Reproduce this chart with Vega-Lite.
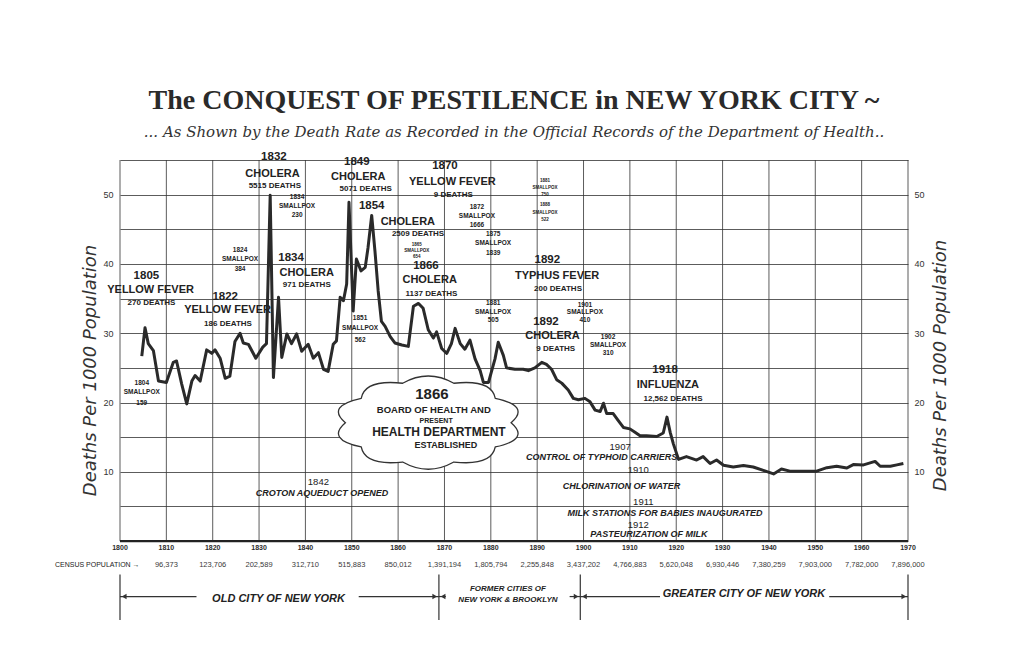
{
  "$schema": "https://vega.github.io/schema/vega-lite/v6.json",
  "width": 788,
  "height": 492,
  "autosize": "none",
  "padding": {"left": 120, "top": 160, "right": 117, "bottom": 1},
  "background": "white",
  "config": {"view": {"stroke": null}, "font": "Liberation Sans", "text": {"color": "#2b2b2b"}},
  "title": {
    "text": "The CONQUEST OF PESTILENCE in NEW YORK CITY ~",
    "subtitle": "... As Shown by the Death Rate as Recorded in the Official Records of the Department of Health..",
    "anchor": "middle",
    "frame": "group",
    "font": "Liberation Serif",
    "fontSize": 28,
    "fontWeight": "bold",
    "color": "#2a2a2a",
    "subtitleFont": "DejaVu Serif",
    "subtitleFontStyle": "italic",
    "subtitleFontSize": 15,
    "subtitleColor": "#333333",
    "subtitlePadding": 10,
    "offset": 11
  },
  "datasets": {
    "rate": [
      {"year": 1804.7, "rate": 26.7}, {"year": 1805.4, "rate": 30.8}, {"year": 1806.1, "rate": 28.5}, {"year": 1807.2, "rate": 27.5},
      {"year": 1808.3, "rate": 23.1}, {"year": 1810.0, "rate": 22.9}, {"year": 1811.5, "rate": 25.8}, {"year": 1812.2, "rate": 26.0},
      {"year": 1813.3, "rate": 22.7}, {"year": 1814.4, "rate": 19.8}, {"year": 1815.5, "rate": 23.1}, {"year": 1816.2, "rate": 23.9},
      {"year": 1817.3, "rate": 23.1}, {"year": 1818.7, "rate": 27.6}, {"year": 1819.8, "rate": 27.1}, {"year": 1820.5, "rate": 27.6},
      {"year": 1821.6, "rate": 26.4}, {"year": 1822.7, "rate": 23.5}, {"year": 1823.7, "rate": 23.8}, {"year": 1824.8, "rate": 28.8},
      {"year": 1825.9, "rate": 30.0}, {"year": 1826.6, "rate": 28.6}, {"year": 1827.7, "rate": 28.4}, {"year": 1829.3, "rate": 26.4},
      {"year": 1830.8, "rate": 28.0}, {"year": 1831.6, "rate": 28.5}, {"year": 1832.4, "rate": 49.9}, {"year": 1833.1, "rate": 23.6},
      {"year": 1834.2, "rate": 35.2}, {"year": 1834.9, "rate": 26.5}, {"year": 1836.0, "rate": 29.9}, {"year": 1837.0, "rate": 28.5},
      {"year": 1838.1, "rate": 29.9}, {"year": 1839.2, "rate": 27.4}, {"year": 1840.6, "rate": 28.4}, {"year": 1841.7, "rate": 26.4},
      {"year": 1842.8, "rate": 27.2}, {"year": 1843.9, "rate": 24.8}, {"year": 1844.9, "rate": 24.5}, {"year": 1846.0, "rate": 28.4},
      {"year": 1846.7, "rate": 28.9}, {"year": 1847.5, "rate": 35.2}, {"year": 1848.2, "rate": 34.7}, {"year": 1848.9, "rate": 37.1},
      {"year": 1849.4, "rate": 48.9}, {"year": 1850.3, "rate": 33.2}, {"year": 1851.0, "rate": 40.7}, {"year": 1852.0, "rate": 39.0},
      {"year": 1852.9, "rate": 39.5}, {"year": 1853.5, "rate": 42.3}, {"year": 1854.3, "rate": 47.0}, {"year": 1855.0, "rate": 41.9},
      {"year": 1855.7, "rate": 36.1}, {"year": 1856.4, "rate": 31.7}, {"year": 1857.2, "rate": 31.0}, {"year": 1858.3, "rate": 29.5},
      {"year": 1859.3, "rate": 28.6}, {"year": 1860.8, "rate": 28.3}, {"year": 1862.2, "rate": 28.1}, {"year": 1863.3, "rate": 33.9},
      {"year": 1864.4, "rate": 34.3}, {"year": 1865.4, "rate": 33.6}, {"year": 1866.5, "rate": 30.5}, {"year": 1867.6, "rate": 29.3},
      {"year": 1868.3, "rate": 30.2}, {"year": 1869.4, "rate": 27.8}, {"year": 1870.5, "rate": 27.1}, {"year": 1871.5, "rate": 28.5},
      {"year": 1872.3, "rate": 30.7}, {"year": 1873.4, "rate": 28.5}, {"year": 1874.4, "rate": 27.7}, {"year": 1875.5, "rate": 29.0},
      {"year": 1876.6, "rate": 26.3}, {"year": 1877.7, "rate": 24.6}, {"year": 1878.4, "rate": 22.9}, {"year": 1879.5, "rate": 22.9},
      {"year": 1880.9, "rate": 26.3}, {"year": 1881.6, "rate": 28.7}, {"year": 1882.7, "rate": 26.8}, {"year": 1883.4, "rate": 25.0},
      {"year": 1885.2, "rate": 24.8}, {"year": 1887.0, "rate": 24.8}, {"year": 1888.1, "rate": 24.6}, {"year": 1889.5, "rate": 25.0},
      {"year": 1891.0, "rate": 25.8}, {"year": 1892.0, "rate": 25.5}, {"year": 1893.1, "rate": 24.8}, {"year": 1894.2, "rate": 23.3},
      {"year": 1895.3, "rate": 22.8}, {"year": 1896.7, "rate": 21.8}, {"year": 1897.8, "rate": 20.6}, {"year": 1898.9, "rate": 20.4},
      {"year": 1900.3, "rate": 20.6}, {"year": 1901.4, "rate": 20.1}, {"year": 1902.5, "rate": 18.9}, {"year": 1903.6, "rate": 18.7},
      {"year": 1904.3, "rate": 19.9}, {"year": 1905.0, "rate": 18.4}, {"year": 1906.4, "rate": 18.4}, {"year": 1907.5, "rate": 17.4},
      {"year": 1908.6, "rate": 16.4}, {"year": 1910.0, "rate": 16.2}, {"year": 1911.1, "rate": 15.7}, {"year": 1912.2, "rate": 15.2},
      {"year": 1913.6, "rate": 15.2}, {"year": 1915.8, "rate": 15.1}, {"year": 1917.2, "rate": 15.6}, {"year": 1918.0, "rate": 17.9},
      {"year": 1918.7, "rate": 15.7}, {"year": 1919.4, "rate": 14.0}, {"year": 1920.5, "rate": 11.8}, {"year": 1922.2, "rate": 12.2},
      {"year": 1924.4, "rate": 11.7}, {"year": 1925.8, "rate": 12.2}, {"year": 1927.3, "rate": 11.2}, {"year": 1928.7, "rate": 11.7},
      {"year": 1930.2, "rate": 10.95}, {"year": 1932.3, "rate": 10.7}, {"year": 1934.5, "rate": 10.9}, {"year": 1936.6, "rate": 10.7},
      {"year": 1938.8, "rate": 10.2}, {"year": 1941.0, "rate": 9.7}, {"year": 1942.7, "rate": 10.4}, {"year": 1944.5, "rate": 10.1},
      {"year": 1947.4, "rate": 10.1}, {"year": 1950.3, "rate": 10.1}, {"year": 1952.5, "rate": 10.6}, {"year": 1954.6, "rate": 10.8},
      {"year": 1956.8, "rate": 10.55}, {"year": 1958.2, "rate": 11.05}, {"year": 1960.4, "rate": 11.0}, {"year": 1962.9, "rate": 11.5},
      {"year": 1964.0, "rate": 10.8}, {"year": 1966.2, "rate": 10.8}, {"year": 1967.6, "rate": 11.0}, {"year": 1969.0, "rate": 11.2}
    ],
    "decades": [
      {"year": 1800, "pop": ""}, {"year": 1810, "pop": "96,373"}, {"year": 1820, "pop": "123,706"}, {"year": 1830, "pop": "202,589"},
      {"year": 1840, "pop": "312,710"}, {"year": 1850, "pop": "515,883"}, {"year": 1860, "pop": "850,012"}, {"year": 1870, "pop": "1,391,194"},
      {"year": 1880, "pop": "1,805,794"}, {"year": 1890, "pop": "2,255,848"}, {"year": 1900, "pop": "3,437,202"}, {"year": 1910, "pop": "4,766,883"},
      {"year": 1920, "pop": "5,620,048"}, {"year": 1930, "pop": "6,930,446"}, {"year": 1940, "pop": "7,380,259"}, {"year": 1950, "pop": "7,903,000"},
      {"year": 1960, "pop": "7,782,000"}, {"year": 1970, "pop": "7,896,000"}
    ],
    "labels": [
      {"year": 1833.2, "v": 55.4, "text": "1832", "kind": "yr"},
      {"year": 1832.9, "v": 53.0, "text": "CHOLERA", "kind": "dis"},
      {"year": 1833.4, "v": 51.2, "text": "5515 DEATHS", "kind": "dth"},
      {"year": 1838.2, "v": 49.6, "text": "1834", "kind": "note"},
      {"year": 1838.2, "v": 48.3, "text": "SMALLPOX", "kind": "note"},
      {"year": 1838.2, "v": 47.0, "text": "230", "kind": "note"},
      {"year": 1825.9, "v": 42.0, "text": "1824", "kind": "note"},
      {"year": 1825.9, "v": 40.7, "text": "SMALLPOX", "kind": "note"},
      {"year": 1825.9, "v": 39.3, "text": "384", "kind": "note"},
      {"year": 1836.9, "v": 40.9, "text": "1834", "kind": "yr"},
      {"year": 1840.3, "v": 38.7, "text": "CHOLERA", "kind": "dis"},
      {"year": 1840.3, "v": 37.0, "text": "971 DEATHS", "kind": "dth"},
      {"year": 1805.7, "v": 38.3, "text": "1805", "kind": "yr"},
      {"year": 1806.6, "v": 36.2, "text": "YELLOW FEVER", "kind": "dis"},
      {"year": 1806.8, "v": 34.3, "text": "270 DEATHS", "kind": "dth"},
      {"year": 1822.7, "v": 35.3, "text": "1822", "kind": "yr"},
      {"year": 1823.2, "v": 33.4, "text": "YELLOW FEVER", "kind": "dis"},
      {"year": 1823.3, "v": 31.4, "text": "186 DEATHS", "kind": "dth"},
      {"year": 1804.7, "v": 22.8, "text": "1804", "kind": "note"},
      {"year": 1804.7, "v": 21.5, "text": "SMALLPOX", "kind": "note"},
      {"year": 1804.7, "v": 19.9, "text": "159", "kind": "note"},
      {"year": 1851.1, "v": 54.7, "text": "1849", "kind": "yr"},
      {"year": 1851.4, "v": 52.5, "text": "CHOLERA", "kind": "dis"},
      {"year": 1853.0, "v": 50.8, "text": "5071 DEATHS", "kind": "dth"},
      {"year": 1851.8, "v": 32.2, "text": "1851", "kind": "note"},
      {"year": 1851.8, "v": 30.8, "text": "SMALLPOX", "kind": "note"},
      {"year": 1851.8, "v": 29.0, "text": "562", "kind": "note"},
      {"year": 1854.3, "v": 48.4, "text": "1854", "kind": "yr"},
      {"year": 1862.1, "v": 46.1, "text": "CHOLERA", "kind": "dis"},
      {"year": 1864.3, "v": 44.3, "text": "2509 DEATHS", "kind": "dth"},
      {"year": 1864.0, "v": 42.8, "text": "1865", "kind": "tiny"},
      {"year": 1864.0, "v": 41.9, "text": "SMALLPOX", "kind": "tiny"},
      {"year": 1864.0, "v": 41.0, "text": "654", "kind": "tiny"},
      {"year": 1866.0, "v": 39.7, "text": "1866", "kind": "yr"},
      {"year": 1866.8, "v": 37.7, "text": "CHOLERA", "kind": "dis"},
      {"year": 1867.2, "v": 35.6, "text": "1137 DEATHS", "kind": "dth"},
      {"year": 1870.1, "v": 54.1, "text": "1870", "kind": "yr"},
      {"year": 1871.7, "v": 51.8, "text": "YELLOW FEVER", "kind": "dis"},
      {"year": 1871.9, "v": 50.0, "text": "9 DEATHS", "kind": "dth"},
      {"year": 1877.0, "v": 48.2, "text": "1872", "kind": "note"},
      {"year": 1877.0, "v": 46.9, "text": "SMALLPOX", "kind": "note"},
      {"year": 1877.0, "v": 45.6, "text": "1666", "kind": "note"},
      {"year": 1880.5, "v": 44.3, "text": "1875", "kind": "note"},
      {"year": 1880.5, "v": 43.0, "text": "SMALLPOX", "kind": "note"},
      {"year": 1880.5, "v": 41.6, "text": "1839", "kind": "note"},
      {"year": 1880.5, "v": 34.4, "text": "1881", "kind": "note"},
      {"year": 1880.5, "v": 33.1, "text": "SMALLPOX", "kind": "note"},
      {"year": 1880.5, "v": 31.9, "text": "505", "kind": "note"},
      {"year": 1891.7, "v": 52.0, "text": "1881", "kind": "tiny"},
      {"year": 1891.7, "v": 50.9, "text": "SMALLPOX", "kind": "tiny"},
      {"year": 1891.7, "v": 49.9, "text": "750", "kind": "tiny"},
      {"year": 1891.7, "v": 48.5, "text": "1888", "kind": "tiny"},
      {"year": 1891.7, "v": 47.4, "text": "SMALLPOX", "kind": "tiny"},
      {"year": 1891.7, "v": 46.4, "text": "522", "kind": "tiny"},
      {"year": 1892.2, "v": 40.6, "text": "1892", "kind": "yr"},
      {"year": 1894.3, "v": 38.3, "text": "TYPHUS FEVER", "kind": "dis"},
      {"year": 1894.5, "v": 36.4, "text": "200 DEATHS", "kind": "dth"},
      {"year": 1891.9, "v": 31.6, "text": "1892", "kind": "yr"},
      {"year": 1893.3, "v": 29.6, "text": "CHOLERA", "kind": "dis"},
      {"year": 1894.0, "v": 27.7, "text": "9 DEATHS", "kind": "dth"},
      {"year": 1900.3, "v": 34.1, "text": "1901", "kind": "note"},
      {"year": 1900.3, "v": 33.0, "text": "SMALLPOX", "kind": "note"},
      {"year": 1900.3, "v": 31.9, "text": "410", "kind": "note"},
      {"year": 1905.3, "v": 29.4, "text": "1902", "kind": "note"},
      {"year": 1905.3, "v": 28.3, "text": "SMALLPOX", "kind": "note"},
      {"year": 1905.3, "v": 27.1, "text": "310", "kind": "note"},
      {"year": 1917.6, "v": 24.7, "text": "1918", "kind": "yr"},
      {"year": 1918.2, "v": 22.6, "text": "INFLUENZA", "kind": "dis"},
      {"year": 1919.3, "v": 20.5, "text": "12,562 DEATHS", "kind": "dth"},
      {"year": 1842.8, "v": 8.6, "text": "1842", "kind": "evyr"},
      {"year": 1843.6, "v": 7.0, "text": "CROTON AQUEDUCT OPENED", "kind": "ev"},
      {"year": 1907.9, "v": 13.6, "text": "1907", "kind": "evyr"},
      {"year": 1903.9, "v": 12.1, "text": "CONTROL OF TYPHOID CARRIERS", "kind": "ev"},
      {"year": 1911.8, "v": 10.2, "text": "1910", "kind": "evyr"},
      {"year": 1908.2, "v": 7.9, "text": "CHLORINATION OF WATER", "kind": "ev"},
      {"year": 1912.9, "v": 5.7, "text": "1911", "kind": "evyr"},
      {"year": 1917.6, "v": 4.0, "text": "MILK STATIONS FOR BABIES INAUGURATED", "kind": "ev"},
      {"year": 1911.8, "v": 2.3, "text": "1912", "kind": "evyr"},
      {"year": 1914.1, "v": 1.0, "text": "PASTEURIZATION OF MILK", "kind": "ev"},
      {"year": 1867.3, "v": 21.2, "text": "1866", "kind": "c1"},
      {"year": 1867.7, "v": 18.9, "text": "BOARD OF HEALTH AND", "kind": "c2"},
      {"year": 1868.2, "v": 17.3, "text": "PRESENT", "kind": "c3"},
      {"year": 1868.8, "v": 15.7, "text": "HEALTH DEPARTMENT", "kind": "c4"},
      {"year": 1870.3, "v": 13.8, "text": "ESTABLISHED", "kind": "c5"},
      {"year": 1795.1, "v": -3.4, "text": "CENSUS POPULATION \u2192", "kind": "head"},
      {"year": 1834.2, "v": -8.3, "text": "OLD CITY OF NEW YORK", "kind": "era"},
      {"year": 1883.7, "v": -6.9, "text": "FORMER CITIES OF", "kind": "era2"},
      {"year": 1883.7, "v": -8.5, "text": "NEW YORK & BROOKLYN", "kind": "era2"},
      {"year": 1934.6, "v": -7.7, "text": "GREATER CITY OF NEW YORK", "kind": "era"}
    ],
    "cloud": [{"year": 1866.5, "v": 17.1}],
    "brackets": [{"year": 1800}, {"year": 1868.8}, {"year": 1899.3}, {"year": 1970}],
    "segments": [
      {"from": 1800, "to": 1816.5}, {"from": 1851.5, "to": 1868.8}, {"from": 1868.8, "to": 1870.3},
      {"from": 1897, "to": 1899.3}, {"from": 1899.3, "to": 1916.5}, {"from": 1953, "to": 1970}
    ],
    "arrows": [
      {"year": 1800.9, "dir": "left"}, {"year": 1867.9, "dir": "right"}, {"year": 1869.7, "dir": "left"},
      {"year": 1898.4, "dir": "right"}, {"year": 1900.2, "dir": "left"}, {"year": 1969.1, "dir": "right"}
    ]
  },
  "resolve": {"scale": {"y": "shared"}, "axis": {"y": "independent"}},
  "layer": [
    {
      "data": {"name": "decades"},
      "mark": {"type": "rule", "color": "#333333", "strokeWidth": 1, "opacity": 0.8},
      "encoding": {
        "x": {"field": "year", "type": "quantitative", "scale": {"domain": [1800, 1970], "nice": false, "zero": false}, "axis": null},
        "y": {"datum": 0, "type": "quantitative", "scale": {"domain": [-16, 55], "nice": false, "zero": false},
          "axis": {"orient": "right", "values": [10, 20, 30, 40, 50], "grid": false, "ticks": false, "domain": false,
            "labelFontSize": 9, "labelColor": "#333333", "labelPadding": 6, "labelFont": "Liberation Sans",
            "title": "Deaths Per 1000 Population", "titleFont": "DejaVu Sans", "titleFontStyle": "italic", "titleFontWeight": "normal",
            "titleFontSize": 18, "titleColor": "#333333", "titleAngle": 270, "titleX": 32, "titleY": 205,
            "titleAlign": "center", "titleBaseline": "middle"}},
        "y2": {"datum": 55}
      }
    },
    {
      "data": {"values": [{"edge": "bottom"}]},
      "mark": {"type": "rule", "color": "#222222", "strokeWidth": 2.2},
      "encoding": {
        "x": {"datum": 1800, "type": "quantitative", "axis": null},
        "x2": {"datum": 1970},
        "y": {"datum": 0, "type": "quantitative", "axis": null}
      }
    },
    {
      "data": {"name": "cloud"},
      "mark": {"type": "point", "shape": "M0.9,0 Q1.113,0.181 0.728,0.2645 Q0.688,0.473 0.278,0.428 Q0,0.585 -0.278,0.428 Q-0.688,0.473 -0.728,0.2645 Q-1.113,0.181 -0.9,0 Q-1.113,-0.181 -0.728,-0.2645 Q-0.688,-0.473 -0.278,-0.428 Q0,-0.585 0.278,-0.428 Q0.688,-0.473 0.728,-0.2645 Q1.113,-0.181 0.9,0 Z",
        "size": 33900, "fill": "white", "stroke": "#333333", "strokeWidth": 1.3, "opacity": 1, "filled": true},
      "encoding": {
        "x": {"field": "year", "type": "quantitative", "axis": null},
        "y": {"field": "v", "type": "quantitative", "axis": null}
      }
    },
    {
      "data": {"name": "rate"},
      "mark": {"type": "line", "color": "#2a2a2a", "strokeWidth": 3, "strokeJoin": "round"},
      "encoding": {
        "x": {"field": "year", "type": "quantitative", "axis": null},
        "y": {"field": "rate", "type": "quantitative",
          "axis": {"orient": "left", "values": [0, 5, 10, 15, 20, 25, 30, 35, 40, 45, 50, 55], "grid": true,
            "gridColor": "#333333", "gridOpacity": 0.8, "gridWidth": 1, "ticks": false, "domain": false,
            "labelExpr": "(datum.value % 10 == 0 && datum.value > 0) ? datum.label : ''",
            "labelFontSize": 9, "labelColor": "#333333", "labelPadding": 7, "labelFont": "Liberation Sans",
            "title": "Deaths Per 1000 Population", "titleFont": "DejaVu Sans", "titleFontStyle": "italic", "titleFontWeight": "normal",
            "titleFontSize": 18, "titleColor": "#333333", "titleAngle": 270, "titleX": -30, "titleY": 210,
            "titleAlign": "center", "titleBaseline": "middle"}}
      }
    },
    {
      "data": {"name": "labels"},
      "mark": {"type": "text", "align": "center", "baseline": "middle", "color": "#222222",
        "fontSize": {"expr": "datum.kind=='c1' ? 15 : datum.kind=='c4' ? 12 : datum.kind=='yr' ? 11.5 : (datum.kind=='dis' || datum.kind=='era') ? 11 : (datum.kind=='evyr' || datum.kind=='c2') ? 9.5 : (datum.kind=='ev' || datum.kind=='c5') ? 9 : (datum.kind=='dth' || datum.kind=='era2') ? 8 : (datum.kind=='head' || datum.kind=='c3') ? 7 : datum.kind=='note' ? 6.5 : 4.5"},
        "fontWeight": {"expr": "datum.kind=='head' || datum.kind=='evyr' ? 'normal' : 'bold'"},
        "fontStyle": {"expr": "indexof(['ev','era','era2'], datum.kind) >= 0 ? 'italic' : 'normal'"}},
      "encoding": {
        "x": {"field": "year", "type": "quantitative", "axis": null},
        "y": {"field": "v", "type": "quantitative", "axis": null},
        "text": {"field": "text", "type": "nominal"}
      }
    },
    {
      "data": {"name": "decades"},
      "mark": {"type": "text", "align": "center", "baseline": "middle", "fontSize": 7, "fontWeight": "bold", "color": "#2b2b2b"},
      "encoding": {
        "x": {"field": "year", "type": "quantitative", "axis": null},
        "y": {"datum": -1.0, "type": "quantitative", "axis": null},
        "text": {"field": "year", "type": "quantitative", "format": "d"}
      }
    },
    {
      "data": {"name": "decades"},
      "mark": {"type": "text", "align": "center", "baseline": "middle", "fontSize": 7.5, "color": "#3a3a3a"},
      "encoding": {
        "x": {"field": "year", "type": "quantitative", "axis": null},
        "y": {"datum": -3.4, "type": "quantitative", "axis": null},
        "text": {"field": "pop", "type": "nominal"}
      }
    },
    {
      "data": {"name": "brackets"},
      "mark": {"type": "rule", "color": "#333333", "strokeWidth": 1.2},
      "encoding": {
        "x": {"field": "year", "type": "quantitative", "axis": null},
        "y": {"datum": -4.8, "type": "quantitative", "axis": null},
        "y2": {"datum": -11.4}
      }
    },
    {
      "data": {"name": "segments"},
      "mark": {"type": "rule", "color": "#333333", "strokeWidth": 1.2},
      "encoding": {
        "x": {"field": "from", "type": "quantitative", "axis": null},
        "x2": {"field": "to"},
        "y": {"datum": -8.0, "type": "quantitative", "axis": null}
      }
    },
    {
      "data": {"name": "arrows"},
      "mark": {"type": "point", "filled": true, "color": "#333333", "size": 30, "opacity": 1},
      "encoding": {
        "x": {"field": "year", "type": "quantitative", "axis": null},
        "y": {"datum": -8.0, "type": "quantitative", "axis": null},
        "shape": {"field": "dir", "type": "nominal", "legend": null,
          "scale": {"domain": ["left", "right"], "range": ["triangle-left", "triangle-right"]}}
      }
    }
  ]
}
